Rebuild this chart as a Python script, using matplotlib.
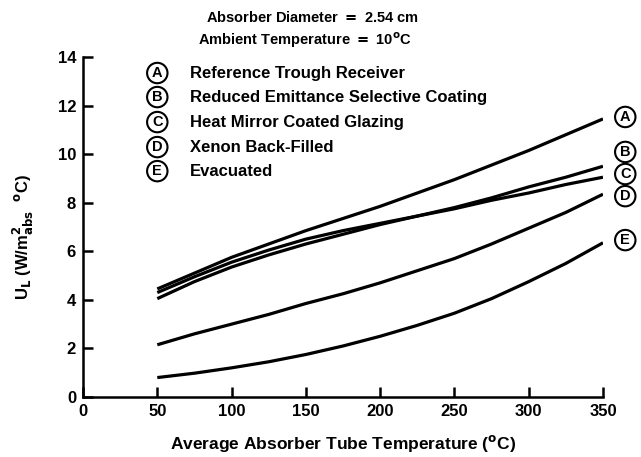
import matplotlib.pyplot as plt

# Heat loss coefficient vs. absorber temperature
temp = [50, 75, 100, 125, 150, 175, 200, 225, 250, 275, 300, 325, 350]
ul_a = [4.45, 5.1, 5.75, 6.3, 6.85, 7.35, 7.85, 8.4, 8.95, 9.55, 10.15, 10.8, 11.45]
ul_b = [4.05, 4.75, 5.35, 5.85, 6.3, 6.7, 7.1, 7.45, 7.8, 8.2, 8.65, 9.05, 9.5]
ul_c = [4.3, 4.95, 5.55, 6.05, 6.5, 6.85, 7.15, 7.45, 7.75, 8.1, 8.4, 8.75, 9.05]
ul_d = [2.15, 2.6, 3.0, 3.4, 3.85, 4.25, 4.7, 5.2, 5.7, 6.3, 6.95, 7.6, 8.35]
ul_e = [0.8, 0.98, 1.2, 1.45, 1.75, 2.1, 2.5, 2.95, 3.45, 4.05, 4.75, 5.5, 6.35]

letters = ['A', 'B', 'C', 'D', 'E']
names = ['Reference Trough Receiver',
         'Reduced Emittance Selective Coating',
         'Heat Mirror Coated Glazing',
         'Xenon Back-Filled',
         'Evacuated']
series = [ul_a, ul_b, ul_c, ul_d, ul_e]
end_label_y = [11.53, 10.09, 9.18, 8.27, 6.46]
legend_y = [13.34, 12.35, 11.32, 10.29, 9.3]

plt.rcParams['font.family'] = ['Liberation Sans', 'DejaVu Sans']
plt.rcParams['font.weight'] = 'bold'

fig = plt.figure(figsize=(6.41, 4.57), dpi=100)
ax = fig.add_axes([0.1295, 0.1313, 0.8112, 0.744])

for vals in series:
    ax.plot(temp, vals, color='black', linewidth=2.3, solid_capstyle='butt')

circ = dict(boxstyle='circle,pad=0.22', fc='white', ec='black', lw=1.5)
for letter, name, ly in zip(letters, names, legend_y):
    ax.text(50, ly, letter, ha='center', va='center', fontsize=10.5,
            fontweight='bold', bbox=circ)
    ax.text(72, ly, name, ha='left', va='center', fontsize=12,
            fontweight='bold')

for letter, ey in zip(letters, end_label_y):
    ax.text(365, ey, letter, ha='center', va='center', fontsize=10.5,
            fontweight='bold', bbox=circ, clip_on=False)

ax.set_xlim(0, 350)
ax.set_ylim(0, 14)
ax.set_xticks(range(0, 351, 50))
ax.set_yticks(range(0, 15, 2))
ax.spines['top'].set_visible(False)
ax.spines['right'].set_visible(False)
for sp in ['left', 'bottom']:
    ax.spines[sp].set_linewidth(1.8)
ax.tick_params(direction='in', length=7, width=1.8, labelsize=12, pad=5)

ax.set_xlabel('Average Absorber Tube Temperature ($^{\\rm o}$C)',
              fontsize=12.5, fontweight='bold', labelpad=10)
ax.set_ylabel('U$_{\\rm L}$ (W/m$^{2}_{\\rm abs}$  $^{\\rm o}$C)',
              fontsize=12, fontweight='bold')
ax.yaxis.set_label_coords(-0.09, 0.47)

fig.text(0.487, 0.962, 'Absorber Diameter $=$ 2.54 cm', ha='center',
         va='center', fontsize=10.5, fontweight='bold')
fig.text(0.475, 0.912, 'Ambient Temperature $=$ 10$^{\\rm o}$C', ha='center',
         va='center', fontsize=10.5, fontweight='bold')

fig.savefig('out.png', dpi=100)
